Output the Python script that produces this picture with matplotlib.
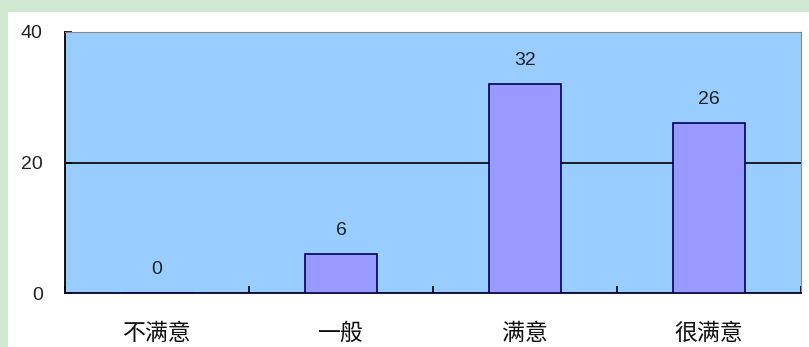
import matplotlib
matplotlib.use("Agg")
import matplotlib.pyplot as plt
import numpy as np

plt.rcParams['font.family'] = ['Noto Sans CJK SC', 'DejaVu Sans']

categories = ['不满意', '一般', '满意', '很满意']
values = [0, 6, 32, 26]
yticks = [0, 20, 40]

fig = plt.figure(figsize=(8.09, 3.47), dpi=100)
fig.patch.set_facecolor('#cfe8cf')
# white panel
panel = plt.Rectangle((8/809, 0), 1 - 8/809, 1 - 12/347, transform=fig.transFigure,
                      facecolor='white', edgecolor='none', zorder=-10)
fig.patches.append(panel)

ax = fig.add_axes([65/809, (347-293)/347, (801-65)/809, (293-32)/347])
ax.set_facecolor('#99ccff')
x = np.arange(len(categories))
ax.bar(x, values, width=0.39, color='#9999ff', edgecolor='#000050', linewidth=1.2, zorder=3)
ax.set_xlim(-0.5, len(categories) - 0.5)
ax.set_ylim(0, 40)
ax.set_yticks(yticks)
ax.set_yticklabels([str(v) for v in yticks], fontsize=14, color='#222222',
                   family=['Liberation Sans', 'DejaVu Sans'])
ax.axhline(20, color='black', linewidth=1.2, zorder=2)

ax.set_xticks(x)
ax.set_xticklabels(categories, fontsize=16.5, color='#111111')
ax.tick_params(axis='x', length=0, pad=21)
ax.set_xticks(np.arange(len(categories) + 1) - 0.5, minor=True)
ax.tick_params(axis='x', which='minor', direction='in', length=5, color='black', width=1.2)
ax.tick_params(axis='y', direction='in', length=5, color='black', width=1.2, pad=16)

for i, v in enumerate(values):
    ax.text(i, v + 2.3, str(v), ha='center', va='bottom', fontsize=14, color='#222222',
            family=['Liberation Sans', 'DejaVu Sans'])

ax.spines['left'].set_color('black')
ax.spines['bottom'].set_color('#000030')
ax.spines['left'].set_linewidth(1.3)
ax.spines['bottom'].set_linewidth(1.3)
ax.spines['top'].set_color('#888888')
ax.spines['right'].set_color('#888888')

fig.savefig('out.png', dpi=100, facecolor=fig.get_facecolor())
